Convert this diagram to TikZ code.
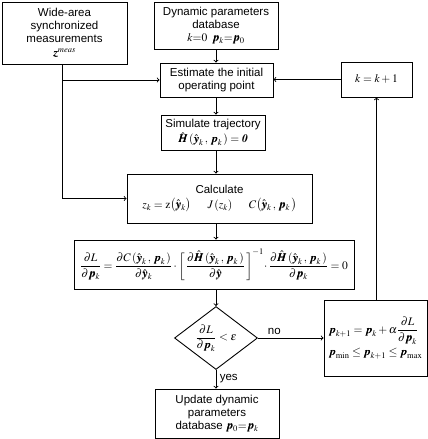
\documentclass[tikz,border=0pt]{standalone}
\usepackage{amsmath}
\usepackage{mathptmx}
\usepackage{bm}
\usepackage[no-math]{fontspec}
\setmainfont{Liberation Sans}
\usetikzlibrary{shapes.geometric}
\newcommand{\vp}{\bm{p}}
\newcommand{\vy}{\hat{\bm{y}}}
\newcommand{\vH}{\hat{\bm{H}}}
\newcommand{\args}{\,(\vy_k\,,\,\vp_k\,)}
\newcommand{\bzero}{\text{\usefont{OT1}{ptm}{b}{it}0}}

\begin{document}
\begin{tikzpicture}[x=1pt,y=-1pt,
    box/.style={draw,line width=0.9pt,rectangle,inner sep=0pt,align=center,
      font=\fontsize{11.5}{13}\selectfont},
    decision/.style={draw,line width=0.9pt,diamond,aspect=1.3,inner sep=0pt,
      minimum width=83pt,minimum height=63pt,font=\fontsize{11.5}{13}\selectfont},
    flow/.style={->,line width=0.9pt}]
      \useasboundingbox (0,0) rectangle (428,439);
      \coordinate (spine) at (216,0);
      % top row
      \node[box,minimum width=125pt,minimum height=62pt] (meas) at (64.5,33)
        {Wide-area\\synchronized\\measurements\\[1pt]$\bm{z}^{\mathit{meas}}$};
      \node[box,minimum width=124pt,minimum height=47pt] (dbase) at (216,25.5)
        {Dynamic parameters\\database\\$k{=}0\;\;\vp_k{=}\vp_0$};
      \node[box,minimum width=113pt,minimum height=34pt] (est) at (216.5,80)
        {Estimate the initial\\operating point};
      \node[box,minimum width=71pt,minimum height=35pt] (incr) at (376.5,79.5)
        {$k = k+1$};
      % main column
      \node[box,minimum width=104pt,minimum height=35pt] (sim) at (213,132.5)
        {Simulate trajectory\\[2pt]$\vH\args=\bzero$};
      \node[box,minimum width=185pt,minimum height=49pt] (calc) at (219.5,198.5)
        {Calculate\\[2pt]$z_k=\mathrm{z}\bigl(\vy_k\bigr)\quad\;\; J\,(z_k)\quad\;\; C\bigl(\vy_k\,,\,\vp_k\,\bigr)$};
      \node[box,minimum width=280pt,minimum height=49pt] (grad) at (214,264.5)
        {$\dfrac{\partial L}{\partial\vp_k}=\dfrac{\partial C\args}{\partial\vy_k}\cdot
          \left[\,\dfrac{\partial\vH\args}{\partial\vy}\,\right]^{-1}\!\cdot
          \dfrac{\partial\vH\args}{\partial\vp_k}=0$};
      \node[decision] (test) at (216,338)
        {$\dfrac{\partial L}{\partial\vp_k}<\varepsilon$};
      \node[box,minimum width=103pt,minimum height=76pt,align=left] (step) at (375.5,338)
        {$\vp_{k+1}=\vp_k+\alpha\dfrac{\partial L}{\partial\vp_k}$\\[3pt]
         $\vp_{\min}\leq\vp_{k+1}\leq\vp_{\max}$};
      \node[box,minimum width=124pt,minimum height=49pt] (final) at (217,413.5)
        {Update dynamic\\parameters\\database $\vp_0{=}\vp_k$};
      % connectors
      \draw[flow] (dbase.south -| spine) -- (est.north -| spine);
      \draw[flow] (est.south -| spine) -- (sim.north -| spine);
      \draw[flow] (sim.south -| spine) -- (calc.north -| spine);
      \draw[flow] (calc.south -| spine) -- (grad.north -| spine);
      \draw[flow] (grad.south -| spine) -- (test.north);
      \draw[flow] (test.south) -- node[right,pos=0.45,font=\fontsize{11.5}{13}\selectfont] {yes} (final.north -| test.south);
      \draw[flow] (test.east) -- node[above,pos=0.25,font=\fontsize{11.5}{13}\selectfont] {no} (step.west);
      \draw[flow] (step.north -| incr.south) -- (incr.south);
      \draw[flow] (incr.west) -- (est.east |- incr.west);
      \draw[flow] ([xshift=-2.5pt]meas.south) |- (calc.west);
      \draw[flow] ([xshift=-2.5pt]meas.south |- est.west) -- (est.west);
\end{tikzpicture}
\end{document}
